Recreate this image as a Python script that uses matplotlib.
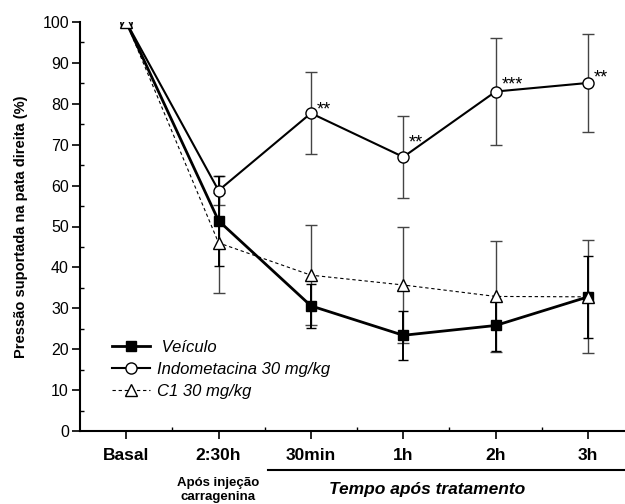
import matplotlib
matplotlib.use('Agg')
import matplotlib.pyplot as plt
import matplotlib.transforms as mtransforms
from matplotlib.lines import Line2D
from matplotlib.ticker import MultipleLocator
import numpy as np

plt.rcParams['font.family'] = ['Liberation Sans', 'DejaVu Sans']

# data
timeLabels = ['Basal', '2:30h', '30min', '1h', '2h', '3h']
veiculo = [100, 51.4, 30.6, 23.4, 25.8, 32.8]
veiculoErr = [0, 11.0, 5.3, 6.0, 6.3, 10.0]
indometacina = [100, 58.8, 77.7, 67.0, 83.0, 85.1]
indometacinaErr = [0, 3.6, 10.0, 10.0, 13.0, 12.0]
c1 = [100, 46.0, 38.1, 35.7, 32.9, 32.8]
c1Err = [0, 12.2, 12.3, 14.2, 13.6, 13.8]
stars = ['', '', '**', '**', '***', '**']

x = np.arange(len(timeLabels))

fig = plt.figure(figsize=(6.25, 5.04), dpi=100)
ax = fig.add_axes([80 / 625, 73 / 504, 545 / 625, 409 / 504])

# error bars first (grey thin for indometacina / C1, black for veiculo)
ax.errorbar(x, c1, yerr=c1Err, fmt='none', ecolor='#444444', elinewidth=1.0,
            capsize=4.2, capthick=1.0, zorder=2)
ax.errorbar(x, indometacina, yerr=indometacinaErr, fmt='none', ecolor='#444444',
            elinewidth=1.0, capsize=4.2, capthick=1.0, zorder=2)
ax.errorbar(x, veiculo, yerr=veiculoErr, fmt='none', ecolor='black', elinewidth=1.4,
            capsize=3.8, capthick=1.0, zorder=3)

# the three curves
ax.plot(x, c1, linestyle=(0, (3, 2.5)), color='black', linewidth=0.8, marker='^',
        markersize=8, markerfacecolor='white', markeredgecolor='black',
        markeredgewidth=1.0, zorder=6)
ax.plot(x, indometacina, linestyle='-', color='black', linewidth=1.5, marker='o',
        markersize=8, markerfacecolor='white', markeredgecolor='black',
        markeredgewidth=1.0, zorder=5)
ax.plot(x, veiculo, linestyle='-', color='black', linewidth=2.0, marker='s',
        markersize=6.5, markerfacecolor='black', markeredgecolor='black', zorder=4)

# significance stars next to indometacina points (baseline offsets)
starOffsets = [0, 0, -0.4, 2.2, 0.6, 0.2]
for i in range(len(x)):
    if stars[i]:
        ax.text(x[i] + 0.06, indometacina[i] + starOffsets[i], stars[i],
                fontsize=13, ha='left', va='baseline')

ax.set_xlim(-0.5, 5.4)
ax.set_ylim(0, 100)
ax.yaxis.set_major_locator(MultipleLocator(10))
ax.yaxis.set_minor_locator(MultipleLocator(5))
ax.set_xticks(x)
ax.set_xticklabels(timeLabels, fontsize=12.5, fontweight='bold')
ax.set_xticks(x[:-1] + 0.5, minor=True)
ax.tick_params(axis='y', which='major', direction='out', length=6, width=1.2, labelsize=11.5, pad=2)
ax.tick_params(axis='y', which='minor', direction='in', length=3, width=1)
ax.tick_params(axis='x', which='major', direction='out', length=6, width=1.2, pad=6)
ax.tick_params(axis='x', which='minor', direction='in', length=3, width=1)

for side in ['top', 'right']:
    ax.spines[side].set_visible(False)
for side in ['left', 'bottom']:
    ax.spines[side].set_linewidth(1.5)

ax.set_ylabel('Pressão suportada na pata direita (%)', fontsize=10.5, fontweight='bold', labelpad=10)

# grouping line and labels under the x axis
trans = mtransforms.blended_transform_factory(ax.transData, ax.transAxes)
ax.plot([1.54, 5.4], [-0.095, -0.095], color='black', linewidth=1.5,
        transform=trans, clip_on=False)
ax.text(3.26, -0.142, 'Tempo após tratamento', transform=trans, fontsize=12.5,
        fontweight='bold', fontstyle='italic', ha='center', va='center')
ax.text(1, -0.112, 'Após injeção\ncarragenina', transform=trans, fontsize=9.5,
        fontweight='bold', ha='center', va='top', linespacing=1.2)

# legend
handles = [
    Line2D([], [], color='black', linewidth=2.0, marker='s', markersize=6.5,
           markerfacecolor='black'),
    Line2D([], [], color='black', linewidth=1.5, marker='o', markersize=8,
           markerfacecolor='white'),
    Line2D([], [], color='black', linewidth=0.8, linestyle=(0, (3, 2.5)), marker='^',
           markersize=8, markerfacecolor='white'),
]
labels = [' Veículo', 'Indometacina 30 mg/kg', 'C1 30 mg/kg']
ax.legend(handles, labels, loc='upper left', bbox_to_anchor=(0.058, 0.222),
          frameon=False, borderpad=0, borderaxespad=0, handlelength=2.3,
          handletextpad=0.4, labelspacing=0.4, numpoints=1,
          prop={'size': 12, 'style': 'italic'})

fig.savefig('out.png', dpi=100)
